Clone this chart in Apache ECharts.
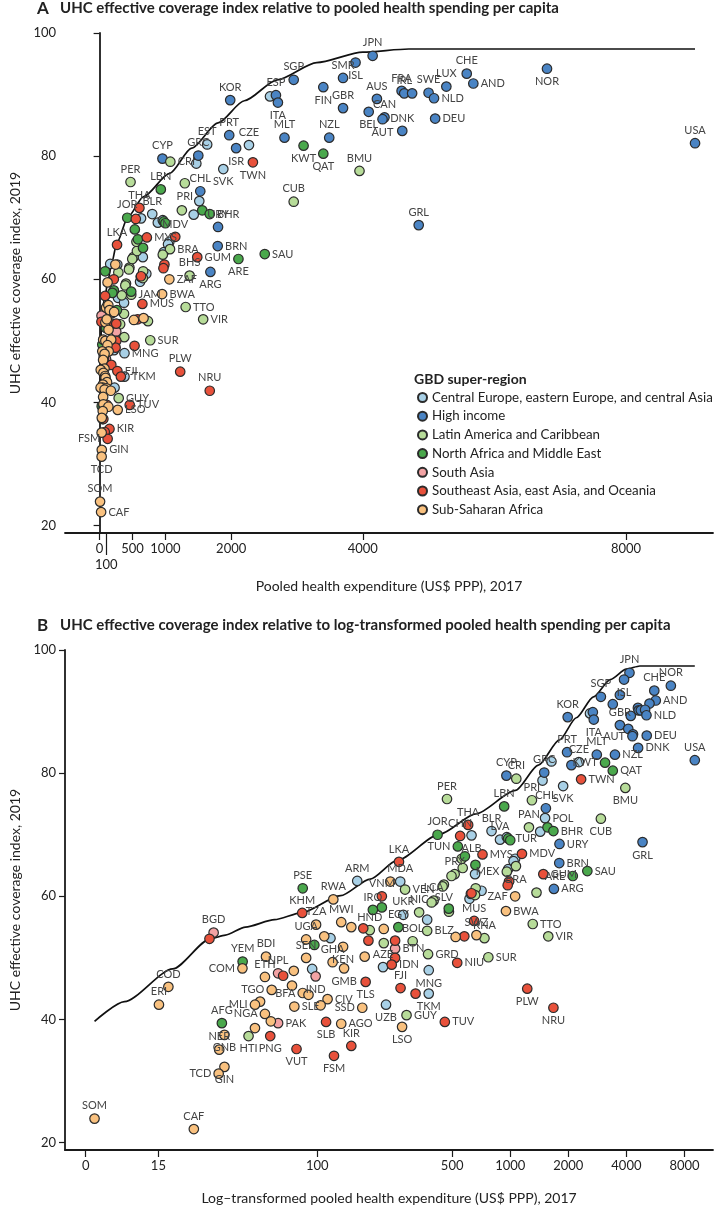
<!DOCTYPE html>
<html><head><meta charset="utf-8">
<script src="https://cdn.jsdelivr.net/npm/echarts@6/dist/echarts.min.js"></script>
<style>html,body{margin:0;padding:0;background:#fff}#c{width:715px;height:1206px}</style>
</head><body><div id="c"></div>
<script>
const FONT = 'Lato, "Open Sans", sans-serif';
const regionNames = ['Central Europe, eastern Europe, and central Asia','High income','Latin America and Caribbean','North Africa and Middle East','South Asia','Southeast Asia, east Asia, and Oceania','Sub-Saharan Africa'];
const regionColors = ['#a8d0e6','#4a84c4','#b7dc99','#4aa84c','#f3a3a4','#e8513b','#f9c17f'];

// Central Europe, eastern Europe, and central Asia
const ceeCodes = ['SVN','CZE','EST','HRV','SVK','POL','HUN','BLR','LVA','LTU','ALB','ROU','BGR','MNE','SRB','MKD','BIH','RUS','MDA','ARM','UKR','KAZ','KGZ','TJK','AZE','MNG','TKM','UZB'];
const ceeSpend = [2590,2270,1635,1470,1880,1515,1430,800,885,960,630,1060,975,657,710,615,625,1040,269,161,279,371,117,94,219,378,378,227];
const ceeUHC = [89.7,81.8,81.9,78.8,77.9,72.7,70.5,70.6,69.2,69.6,69.9,66.1,64.4,63.6,60.9,59.6,60.4,65.7,62.4,62.5,57.0,56.2,53.2,48.2,48.5,48.0,44.2,42.4];
// High income
const hiCodes = ['JPN','ISL','NOR','CHE','SMR','SGP','AND','LUX','FIN','FRA','IRL','MCO','SWE','NLD','ESP','ITA','KOR','AUS','GBR','BEL','CAN','AUT','DEU','DNK','MLT','NZL','PRT','ISR','GRC','CYP','USA','GRL','CHL','URY','BRN','ARG'];
const hiSpend = [4150,3890,6800,5580,3700,2950,5680,5270,3400,4590,4630,4750,5000,5083,2680,2710,1985,4215,3700,4090,4330,4300,5100,4600,2810,3490,1970,2075,1500,955,9050,4850,1530,1800,1795,1684];
const hiUHC = [96.3,95.2,94.2,93.4,92.7,92.4,91.8,91.3,91.2,90.6,90.2,90.2,90.3,89.4,89.9,88.7,89.1,89.3,87.8,87.2,86.3,86.0,86.1,84.1,83.0,83.0,83.4,81.3,80.1,79.6,82.1,68.8,74.3,68.5,65.4,61.2];
// Latin America and Caribbean
const latCodes = ['PER','CRI','PRI','PAN','CUB','BMU','VIR','TTO','BHS','JAM','SUR','GUY','HTI','BLZ','BOL','GRD','KNA','LCA','NIC','SLV','VEN','HND','PRY','ECU','BRA','MEX','COL','DOM','GTM','ATG','BRB','DMA','VCT'];
const latSpend = [470,1075,1295,1250,2950,3950,1574,1308,1368,481,770,290,44,371,312,375,735,401,337,453,285,187,515,567,1070,960,560,496,221,662,657,446,391];
const latUHC = [75.8,79.1,75.6,71.2,72.6,77.6,53.5,55.5,60.6,57.5,50.1,40.7,37.3,54.4,52.7,50.6,53.2,59.3,57.4,61.9,61.1,54.5,63.6,64.6,64.9,64.0,66.1,63.3,52.4,61.3,60.2,61.6,59.0];
// North Africa and Middle East
const nameCodes = ['KWT','QAT','LBN','OMN','BHR','TUR','LBY','JOR','TUN','IRN','DZA','SAU','ARE','PSE','MAR','SYR','IRQ','EGY','SDN','YEM','AFG'];
const nameSpend = [3100,3400,930,1560,1674,975,1000,420,535,582,660,2510,2110,84,480,216,194,263,96.5,41,32];
const nameUHC = [81.7,80.4,74.6,71.2,70.6,69.4,69.1,70.0,68.1,66.5,65.1,64.1,63.3,61.3,58.0,58.2,57.8,55.0,52.1,49.4,39.4];
// South Asia
const saCodes = ['BGD','BTN','IND','NPL','PAK'];
const saSpend = [29,253,98,62.6,62.6];
const saUHC = [54.1,51.5,47.0,47.5,39.4];
// Southeast Asia, east Asia, and Oceania
const seaCodes = ['TWN','THA','CHN','MYS','MDV','LKA','GUM','SYC','MHL','COK','VNM','KHM','MUS','ASM','MNP','WSM','TON','MMR','PHL','IDN','NIU','LAO','TLS','FJI','PLW','TKL','NRU','TUV','SLB','PNG','KIR','VUT','FSM'];
const seaSpend = [2330,605,550,718,1150,265,1484,985,970,630,216,83.5,650,173,578,184,253,27.6,253,243,531,66.5,178,270,1225,323,1674,458,111,57,150,78,122];
const seaUHC = [79.0,71.6,69.8,66.8,66.9,65.6,63.6,62.4,61.8,60.5,60.0,57.3,56.0,54.8,53.5,52.8,52.8,53.1,50.0,48.9,49.2,47.1,46.1,45.1,45.0,44.2,41.9,39.6,39.6,37.3,35.7,35.2,34.1];
// Sub-Saharan Africa
const ssaCodes = ['ZAF','BWA','SWZ','NAM','CPV','RWA','TZA','MWI','ZWE','GAB','UGA','MDG','KEN','BDI','SEN','DJI','GHA','GMB','COM','ZMB','ETH','LBR','COD','TGO','BFA','CMR','CIV','MOZ','MLI','ERI','COG','SLE','SSD','NGA','BEN','AGO','LSO','MRT','GNB','NER','GIN','TCD','SOM','CAF'];
const ssaSpend = [1060,950,668,521,239,121,98.5,133,150,221,87.5,108.6,136,54.2,87.5,176,120,137.6,40.9,75.5,53.5,73.9,16.9,58,84,90,113,50.5,47.5,15.1,104,76,171,53.5,57.4,133,275,47.5,33,31,33,30.8,7.0,22.9];
const ssaUHC = [60.0,57.6,53.7,53.4,62.4,59.5,55.4,55.8,55.0,54.7,53.0,53.5,51.8,50.2,50.0,50.2,49.3,48.3,48.3,47.9,46.9,45.5,45.3,44.8,44.3,44.0,43.3,42.9,42.4,42.4,42.3,42.1,41.9,40.9,39.7,39.3,38.8,38.6,37.5,35.1,32.3,31.2,23.9,22.2];

// Frontier
const frontierSpend = [7,10,17.8,27.9,33.4,42.4,60,82.5,132,188,258,431,664,1065,1400,1800,2200,2700,3300,4000,4700,9050];
const frontierUHC = [39.7,42.9,48.2,53.1,53.7,55.0,56.2,57.3,60.1,62.8,65.8,70.1,73.4,77.2,81.3,85.4,89.0,92.4,95.2,96.9,97.4,97.4];

// Axis ticks
const yTicks = [20,40,60,80,100];
const xTicksA = [0,100,500,1000,2000,4000,8000];
const xTicksB = [6.3,15,100,500,1000,2000,4000,8000];
const xTickLabelsB = ['0','15','100','500','1000','2000','4000','8000'];

// Label placement (style): position, optional dx, dy
const labelPosA = {KOR:['t',-10,0],SGP:'t',SMR:['t',-11,0],ISL:['b',4,0],JPN:'t',ESP:'t',ITA:'b',FIN:['b',-13,0],GBR:['t',-6,0],FRA:['t',-17,0],IRL:['t',2,0],SWE:'t',LUX:['t',5,0],CHE:['t',14,3],AND:'r',NOR:'b',AUS:['t',-14,3],BEL:['b',-13,-3],CAN:['t',11,2],AUT:['b',-2,0],DNK:['t',9,0],NLD:['r',0,6],DEU:['r',0,8],USA:'t',GRL:'t',PRT:'t',EST:['t',-12,0],GRC:['t',-5,0],CZE:'t',CRI:['r',-5,-6],CYP:['t',-6,0],ISR:['b',-13,-4],MLT:'t',NZL:'t',KWT:['b',-7,0],QAT:'b',TWN:['b',4,0],BMU:['t',-8,0],SVK:'b',PER:'t',LBN:'t',CHL:['t',0,-3],CUB:['t',-5,0],THA:['t',-15,0],PRI:['b',-5,0],BHR:['r',0,-9],JOR:['t',-13,0],BLR:'t',MYS:['r',-10,-4],URY:['t',16,3],LKA:['t',-12,0],MDV:['t',13,3],BRN:['r',0,-7],BRA:'r',GUM:'r',ARE:['b',6,0],SAU:['r',0,10],BHS:'t',ARG:['b',12,0],ZAF:['r',0,6],JAM:'r',BWA:'r',TTO:'r',MUS:['r',0,7],VIR:'r',SUR:'r',MNG:['r',0,5],FJI:['r',0,-5],TKM:'r',NRU:'t',PLW:'t',GUY:['r',0,-8],TUV:'r',LSO:['r',0,5],KIR:'r',FSM:'l',GIN:'r',TCD:['b',-13,0],SOM:'t',CAF:'r'};
const labelPosB = {JPN:'t',NOR:['t',6,0],CHE:['t',-5,0],ISL:['b',11,0],SGP:['t',-12,0],KOR:['t',-6,0],AND:'r',NLD:'r',GBR:['t',-10,0],ITA:['b',-5,0],AUT:['l',-11,0],DEU:['r',0,-4],PRT:['t',-16,0],CZE:['t',5,0],MLT:['t',5,0],GRC:['t',-8,0],NZL:'r',DNK:['r',0,8],USA:'t',CYP:['t',-7,0],CRI:['t',4,0],KWT:['l',0,7],QAT:['r',0,3],TWN:['r',0,11],BMU:['b',8,0],PER:'t',LBN:'t',PRI:'t',CHL:'t',SVK:'b',POL:['r',0,-6],PAN:'t',THA:'t',BLR:['t',-6,0],LVA:['t',6,-4],JOR:['t',-10,0],CHN:['t',-7,0],TUR:'r',TUN:'l',ALB:['b',6,0],MYS:'r',MDV:'r',PRY:['t',-10,0],LKA:['t',-9,0],ARM:['t',-6,0],MDA:['t',-5,0],VEN:['r',0,-8],PSE:['t',-6,0],GUM:'r',MEX:['l',0,7],BRA:'b',RWA:'t',VNM:['t',-8,0],KHM:['t',-6,0],IRQ:['t',-9,0],UKR:['t',-12,0],LCA:['t',-10,0],SLV:['b',9,0],NIC:'t',TZA:'t',MWI:'t',HND:['t',-6,0],EGY:['t',-8,0],MUS:['t',-10,0],SWZ:['t',14,0],BLZ:'r',BWA:'r',ZAF:'l',KNA:['t',8,0],BGD:'t',BOL:'t',UGA:['t',-15,0],GHA:['t',-10,0],KEN:['b',4,0],AZE:['t',-7,0],BTN:'r',GRD:'r',SUR:'r',YEM:['t',-8,0],BDI:'t',SEN:['t',-15,0],NPL:'t',ETH:['t',-10,0],COM:['l',0,9],GMB:'b',IND:['b',5,0],IDN:'r',MNG:['b',9,0],NIU:['r',0,10],FJI:['t',-5,0],TLS:'b',TKM:['b',5,0],PLW:'b',TGO:'l',BFA:'l',CIV:'r',MLI:'l',SLE:['r',0,4],UZB:'b',GUY:'r',TUV:'r',AFG:'t',NGA:['l',0,-8],PAK:'r',SSD:'l',AGO:'r',SLB:'b',LSO:'b',COD:'t',ERI:['t',-4,0],NER:['t',-10,0],TCD:['l',0,-2],GNB:['b',-12,0],HTI:['b',4,0],PNG:'b',VUT:'b',FSM:'b',KIR:'t',GIN:'b',SOM:'t',CAF:'t',GRL:'b',SAU:'r',ARE:'l',ARG:'r',URY:'r',BRN:'r',NRU:'b',TTO:'r',VIR:'r',BHR:'r',CUB:'b'};

const regionData = [
  [ceeCodes, ceeSpend, ceeUHC],
  [hiCodes, hiSpend, hiUHC],
  [latCodes, latSpend, latUHC],
  [nameCodes, nameSpend, nameUHC],
  [saCodes, saSpend, saUHC],
  [seaCodes, seaSpend, seaUHC],
  [ssaCodes, ssaSpend, ssaUHC]
];

const POS = {t:'top', b:'bottom', l:'left', r:'right'};
function labelCfg(v) {
  const a = Array.isArray(v) ? v : [v, 0, 0];
  return {show: true, position: POS[a[0]], offset: [a[1] || 0, a[2] || 0]};
}

function pointSeries(panel) {
  const tx = panel === 'A' ? (v => v) : (v => Math.log10(v));
  const lp = panel === 'A' ? labelPosA : labelPosB;
  return regionData.map((rd, ri) => ({
    type: 'scatter',
    name: regionNames[ri],
    xAxisIndex: panel === 'A' ? 0 : 2,
    yAxisIndex: panel === 'A' ? 0 : 1,
    symbol: 'circle',
    symbolSize: 9.5,
    z: 3,
    itemStyle: {color: regionColors[ri], borderColor: '#2b2b2b', borderWidth: 1.2, opacity: 1},
    label: {show: false, formatter: p => p.name, fontSize: 11, fontFamily: FONT, color: '#444', distance: 2},
    labelLayout: {hideOverlap: false},
    emphasis: {disabled: true},
    data: rd[0].map((code, i) => {
      const item = {name: code, value: [tx(rd[1][i]), rd[2][i]]};
      if (lp[code]) item.label = labelCfg(lp[code]);
      return item;
    })
  }));
}

function frontierSeries(panel) {
  const tx = panel === 'A' ? (v => v) : (v => Math.log10(v));
  return {
    type: 'line',
    name: 'frontier',
    xAxisIndex: panel === 'A' ? 0 : 2,
    yAxisIndex: panel === 'A' ? 0 : 1,
    symbol: 'none',
    smooth: 0.25,
    smoothMonotone: 'x',
    z: 2,
    lineStyle: {color: '#111', width: 1.7},
    emphasis: {disabled: true},
    data: frontierSpend.map((s, i) => [tx(s), frontierUHC[i]])
  };
}

const axisLineStyle = {color: '#1a1a1a', width: 1.8};
const tickLabelStyle = {fontSize: 13, fontFamily: FONT, color: '#222'};
const nameStyle = {fontSize: 14, fontFamily: FONT, color: '#222'};

function yAxis(gridIndex) {
  return {
    type: 'value', gridIndex, min: 18.8, max: 100,
    name: 'UHC effective coverage index, 2019', nameLocation: 'middle', nameGap: 43,
    nameTextStyle: nameStyle,
    axisLine: {show: true, lineStyle: axisLineStyle},
    axisTick: {show: true, customValues: yTicks, length: 6, lineStyle: {color: '#1a1a1a', width: 1.2}},
    axisLabel: Object.assign({customValues: yTicks, margin: 9, formatter: v => String(v)}, tickLabelStyle),
    splitLine: {show: false}
  };
}

const xMainA = xTicksA.filter(v => v !== 100);
const xLongA = xTicksA.filter(v => v === 100);

const option = {
  animation: false,
  backgroundColor: '#fff',
  grid: [
    {left: 58, top: 33, width: 655, height: 500},
    {left: 58, top: 650, width: 655, height: 500}
  ],
  xAxis: [
    {
      type: 'value', gridIndex: 0, min: -526, max: 9323, position: 'bottom',
      name: 'Pooled health expenditure (US$ PPP), 2017', nameLocation: 'middle', nameGap: 46,
      nameTextStyle: nameStyle,
      axisLine: {show: true, lineStyle: axisLineStyle},
      axisTick: {show: true, customValues: xMainA, length: 7, lineStyle: {color: '#1a1a1a', width: 1.2}},
      axisLabel: Object.assign({customValues: xMainA, margin: 9, formatter: v => String(v)}, tickLabelStyle),
      splitLine: {show: false}
    },
    {
      type: 'value', gridIndex: 0, min: -526, max: 9323, position: 'bottom', offset: 0,
      axisLine: {show: false},
      axisTick: {show: true, customValues: xLongA, length: 22, lineStyle: {color: '#1a1a1a', width: 1.2}},
      axisLabel: Object.assign({customValues: xLongA, margin: 25, formatter: v => String(v)}, tickLabelStyle),
      splitLine: {show: false}
    },
    {
      type: 'value', gridIndex: 1, min: 0.692, max: 4.051, position: 'bottom',
      name: 'Log–transformed pooled health expenditure (US$ PPP), 2017', nameLocation: 'middle', nameGap: 41,
      nameTextStyle: nameStyle,
      axisLine: {show: true, lineStyle: axisLineStyle},
      axisTick: {show: true, customValues: xTicksB.map(Math.log10), length: 7, lineStyle: {color: '#1a1a1a', width: 1.2}},
      axisLabel: Object.assign({customValues: xTicksB.map(Math.log10), margin: 9,
        formatter: v => { const i = xTicksB.findIndex(t => Math.abs(Math.log10(t) - v) < 1e-6); return i >= 0 ? xTickLabelsB[i] : ''; }}, tickLabelStyle),
      splitLine: {show: false}
    }
  ],
  yAxis: [yAxis(0), yAxis(1)],
  legend: {
    data: regionNames,
    orient: 'vertical', left: 412, top: 385,
    icon: 'circle', itemWidth: 9, itemHeight: 9, itemGap: 3.7,
    textStyle: {fontSize: 13.3, fontFamily: FONT, color: '#222', lineHeight: 15},
    selectedMode: false
  },
  graphic: [
    {type: 'text', left: 37, top: 0, style: {text: 'A', font: 'bold 17px ' + FONT, fill: '#222'}},
    {type: 'text', left: 60, top: 1, style: {text: 'UHC effective coverage index relative to pooled health spending per capita', font: 'bold 15px ' + FONT, fill: '#222'}},
    {type: 'text', left: 37, top: 617, style: {text: 'B', font: 'bold 17px ' + FONT, fill: '#222'}},
    {type: 'text', left: 60, top: 618, style: {text: 'UHC effective coverage index relative to log-transformed pooled health spending per capita', font: 'bold 15px ' + FONT, fill: '#222'}},
    {type: 'text', left: 414, top: 372, style: {text: 'GBD super-region', font: 'bold 14px ' + FONT, fill: '#222'}}
  ],
  series: [frontierSeries('A'), ...pointSeries('A'), frontierSeries('B'), ...pointSeries('B')]
};

const chart = echarts.init(document.getElementById('c'), null, {renderer: 'canvas'});
chart.setOption(option);
</script>
</body></html>
